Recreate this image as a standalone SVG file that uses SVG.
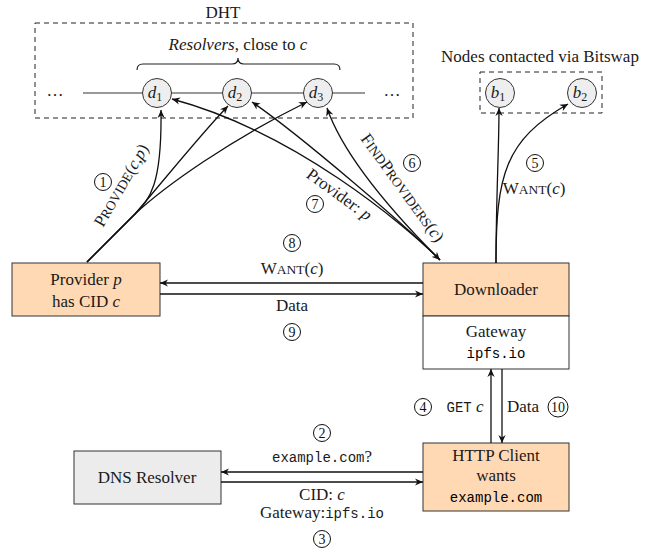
<svg xmlns="http://www.w3.org/2000/svg" width="667" height="552" viewBox="0 0 667 552">
<style>
.t{font-family:"Liberation Serif",serif;font-size:17px;fill:#1a1a1a}
.sc{font-size:13.5px}
.i{font-style:italic}
.m{font-family:"Liberation Mono",monospace;font-size:14px}
.sub{font-size:12px}
.box{stroke:#333;stroke-width:1}
.or{fill:#FFD9B3}
.dash{fill:none;stroke:#222;stroke-width:1;stroke-dasharray:5,4}
.nd{fill:#EEEEEE;stroke:#333;stroke-width:1}
.ln{fill:none;stroke:#111;stroke-width:1.3}
.a{marker-end:url(#ah)}
.num{fill:none;stroke:#111;stroke-width:1}
.n{font-family:"Liberation Serif",serif;font-size:14px;fill:#111;text-anchor:middle}
</style>
<defs>
<marker id="ah" viewBox="0 0 10 10" refX="10" refY="5" markerWidth="8" markerHeight="8" markerUnits="userSpaceOnUse" orient="auto-start-reverse">
<path d="M0,0.5 L10,5 L0,9.5 L3,5 z" fill="#111"/>
</marker>
</defs>

<g id="dht">
<rect class="dash" x="35" y="23" width="378" height="95"/>
<text class="t" x="223" y="18" text-anchor="middle">DHT</text>
<text class="t" x="238" y="50" text-anchor="middle"><tspan class="i">Resolvers</tspan>, close to <tspan class="i">c</tspan></text>
<path d="M137,70 Q137,64 143,64 L232,64 Q238,64 238,58 Q238,64 244,64 L334,64 Q340,64 340,70" fill="none" stroke="#222" stroke-width="1.2"/>
<line x1="83" y1="93" x2="365" y2="93" stroke="#777" stroke-width="1.5"/>
<text class="t" x="55" y="96" text-anchor="middle">…</text>
<text class="t" x="392" y="96" text-anchor="middle">…</text>
</g>
<g id="d1"><circle class="nd" cx="157" cy="93" r="14.5"/><text class="t" x="155" y="98" text-anchor="middle"><tspan class="i">d</tspan><tspan class="sub" dy="3">1</tspan></text></g>
<g id="d2"><circle class="nd" cx="237" cy="93" r="14.5"/><text class="t" x="235" y="98" text-anchor="middle"><tspan class="i">d</tspan><tspan class="sub" dy="3">2</tspan></text></g>
<g id="d3"><circle class="nd" cx="318" cy="93" r="14.5"/><text class="t" x="316" y="98" text-anchor="middle"><tspan class="i">d</tspan><tspan class="sub" dy="3">3</tspan></text></g>

<g id="bitswap">
<text class="t" x="540" y="62" text-anchor="middle">Nodes contacted via Bitswap</text>
<rect class="dash" x="480" y="72" width="122" height="41"/>
</g>
<g id="b1"><circle class="nd" cx="500" cy="93" r="14.5"/><text class="t" x="498" y="98" text-anchor="middle"><tspan class="i">b</tspan><tspan class="sub" dy="3">1</tspan></text></g>
<g id="b2"><circle class="nd" cx="582" cy="93" r="14.5"/><text class="t" x="580" y="98" text-anchor="middle"><tspan class="i">b</tspan><tspan class="sub" dy="3">2</tspan></text></g>

<g id="provider">
<rect class="box or" x="12" y="263" width="148" height="53"/>
<text class="t" x="86" y="285" text-anchor="middle">Provider <tspan class="i">p</tspan></text>
<text class="t" x="86" y="307" text-anchor="middle">has CID <tspan class="i">c</tspan></text>
</g>

<g id="downloader">
<rect class="box or" x="423" y="263" width="146" height="53"/>
<text class="t" x="496" y="295" text-anchor="middle">Downloader</text>
</g>
<g id="gateway">
<rect class="box" fill="#fff" x="423" y="316" width="146" height="53"/>
<text class="t" x="496" y="337" text-anchor="middle">Gateway</text>
<text class="m" x="496" y="358" text-anchor="middle">ipfs.io</text>
</g>

<g id="http-client">
<rect class="box or" x="423" y="443" width="146" height="68"/>
<text class="t" x="496" y="461" text-anchor="middle">HTTP Client</text>
<text class="t" x="496" y="481" text-anchor="middle">wants</text>
<text class="m" x="496" y="502" text-anchor="middle">example.com</text>
</g>

<g id="dns">
<rect class="box" fill="#ECECEC" x="74" y="451" width="147" height="53"/>
<text class="t" x="147" y="483" text-anchor="middle">DNS Resolver</text>
</g>

<g id="connectors">
<path class="ln a" d="M87,262 L135,214 C150,199 162,185 161,110"/>
<path class="ln a" d="M87,262 L135,214 C160,185 200,135 228,106"/>
<path class="ln a" d="M87,262 L135,214 C165,186 230,140 307,102"/>
<path class="ln a" d="M440,260 C400,220 345,160 327,108"/>
<path class="ln a" d="M440,260 C405,225 300,135 252,102"/>
<path class="ln a" d="M440,260 C405,225 295,132 172,99" style="marker-start:url(#ah)"/>
<path class="ln a" d="M496,263 C496,200 499,150 499,108"/>
<path class="ln a" d="M496,263 C496,175 505,140 568,104"/>
<path class="ln a" d="M423,283 L160,283"/>
<path class="ln a" d="M160,294 L423,294"/>
<path class="ln a" d="M423,472 L221,472"/>
<path class="ln a" d="M221,482 L423,482"/>
<path class="ln a" d="M491,443 L491,369"/>
<path class="ln a" d="M502,369 L502,443"/>
</g>

<g id="labels">
<circle class="num" cx="103" cy="182" r="8.5"/><text class="n" x="103" y="187">1</text>
<text class="t" text-anchor="middle" transform="translate(126,188) rotate(-60)">P<tspan class="sc">ROVIDE</tspan>(<tspan class="i">c</tspan>,<tspan class="i">p</tspan>)</text>
<circle class="num" cx="412" cy="163" r="8.5"/><text class="n" x="412" y="168">6</text>
<text class="t" text-anchor="middle" transform="translate(398,191) rotate(54)">F<tspan class="sc">IND</tspan>P<tspan class="sc">ROVIDERS</tspan>(<tspan class="i">c</tspan>)</text>
<circle class="num" cx="315" cy="204" r="8.5"/><text class="n" x="315" y="209">7</text>
<text class="t" text-anchor="middle" transform="translate(336,199) rotate(36)">Provider: <tspan class="i">p</tspan></text>
<circle class="num" cx="535" cy="163" r="8.5"/><text class="n" x="535" y="168">5</text>
<text class="t" x="534" y="194" text-anchor="middle">W<tspan class="sc">ANT</tspan>(<tspan class="i">c</tspan>)</text>
<circle class="num" cx="292" cy="243" r="8.5"/><text class="n" x="292" y="248">8</text>
<text class="t" x="292" y="274" text-anchor="middle">W<tspan class="sc">ANT</tspan>(<tspan class="i">c</tspan>)</text>
<text class="t" x="292" y="311" text-anchor="middle">Data</text>
<circle class="num" cx="292" cy="332" r="8.5"/><text class="n" x="292" y="337">9</text>
<circle class="num" cx="423" cy="407" r="8.5"/><text class="n" x="423" y="412">4</text>
<text class="t" x="465" y="412" text-anchor="middle"><tspan class="m">GET</tspan> <tspan class="i">c</tspan></text>
<text class="t" x="523" y="412" text-anchor="middle">Data</text>
<circle class="num" cx="558" cy="407" r="10"/><text class="n" x="558" y="412">10</text>
<circle class="num" cx="322" cy="433" r="8.5"/><text class="n" x="322" y="438">2</text>
<text class="t" x="322" y="462" text-anchor="middle"><tspan class="m">example.com</tspan>?</text>
<text class="t" x="322" y="500" text-anchor="middle">CID: <tspan class="i">c</tspan></text>
<text class="t" x="322" y="518" text-anchor="middle">Gateway:<tspan class="m">ipfs.io</tspan></text>
<circle class="num" cx="322" cy="539" r="8.5"/><text class="n" x="322" y="544">3</text>
</g>
</svg>
